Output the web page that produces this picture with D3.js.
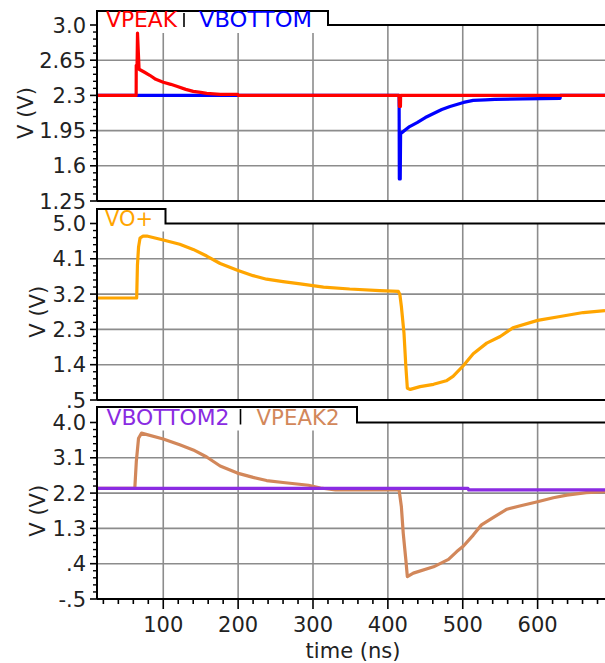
<!DOCTYPE html>
<html><head><meta charset="utf-8">
<script src="https://cdn.jsdelivr.net/npm/d3@7"></script>
<style>body{margin:0;background:#fff}svg{display:block;font-family:"DejaVu Sans",sans-serif}</style>
</head><body><svg id="c" width="605" height="663"></svg>
<script>
// ---------- data ----------
const timeDomain = [11.5, 690];
const timeTicks = [100, 200, 300, 400, 500, 600];
const timeLabels = ["100", "200", "300", "400", "500", "600"];
const timeMinorStep = 20;

const topTicks = [1.25, 1.6, 1.95, 2.3, 2.65, 3.0];
const topLabels = ["1.25", "1.6", "1.95", "2.3", "2.65", "3.0"];
const midTicks = [0.5, 1.4, 2.3, 3.2, 4.1, 5.0];
const midLabels = [".5", "1.4", "2.3", "3.2", "4.1", "5.0"];
const botTicks = [-0.5, 0.4, 1.3, 2.2, 3.1, 4.0];
const botLabels = ["-.5", ".4", "1.3", "2.2", "3.1", "4.0"];

const vpeakT = [11.5, 63.8, 63.9, 65, 65.6, 67.7, 75, 82, 90, 100, 110, 118, 130, 140, 150, 158, 176, 199.5, 200, 415, 415.4, 416.8, 417, 690];
const vpeakV = [2.3, 2.3, 2.6, 2.6, 2.92, 2.56, 2.53, 2.5, 2.46, 2.43, 2.41, 2.39, 2.36, 2.34, 2.33, 2.32, 2.31, 2.31, 2.3, 2.3, 2.19, 2.19, 2.3, 2.3];

const vbottomT = [11.5, 415, 415.3, 416.5, 417, 429, 439, 450, 461, 472, 483, 492, 501, 514, 530, 543, 580, 630, 630.5, 690];
const vbottomV = [2.3, 2.3, 1.47, 1.47, 1.92, 1.99, 2.03, 2.08, 2.12, 2.16, 2.19, 2.21, 2.23, 2.25, 2.255, 2.26, 2.265, 2.27, 2.3, 2.3];

const voT = [11.5, 64.5, 65.5, 67, 69, 73, 78, 100, 122, 140, 158, 176, 199, 220, 238, 260, 283, 314, 349, 389, 414, 416, 418, 421.5, 424, 426, 430, 443, 461, 478, 487, 501, 514, 532, 550, 567, 600, 630, 661, 690];
const voV = [3.1, 3.1, 3.93, 4.4, 4.63, 4.68, 4.68, 4.58, 4.47, 4.34, 4.17, 3.98, 3.81, 3.67, 3.58, 3.52, 3.46, 3.38, 3.33, 3.29, 3.27, 3.19, 2.89, 2.21, 1.36, 0.8, 0.77, 0.84, 0.9, 0.99, 1.1, 1.38, 1.68, 1.95, 2.12, 2.34, 2.53, 2.63, 2.73, 2.78];

const vbottom2T = [11.5, 507, 508, 690];
const vbottom2V = [2.32, 2.32, 2.28, 2.28];

const vpeak2T = [11.5, 62, 64, 67, 71, 100, 122, 140, 158, 176, 199, 220, 238, 260, 294, 310, 330, 415, 418, 420.5, 424, 426, 434, 461, 481, 492, 501, 514, 525, 541, 559, 576, 600, 621, 639, 665, 690];
const vpeak2V = [2.32, 2.32, 3.0, 3.6, 3.73, 3.58, 3.43, 3.3, 3.12, 2.89, 2.71, 2.6, 2.52, 2.47, 2.4, 2.33, 2.28, 2.28, 1.86, 1.18, 0.5, 0.07, 0.16, 0.32, 0.51, 0.71, 0.85, 1.13, 1.39, 1.58, 1.79, 1.87, 1.98, 2.08, 2.15, 2.21, 2.24];

// ---------- layout ----------
const L = 97, R = 605;
const FONT = 21;
const svg = d3.select("#c");
const x = d3.scaleLinear().domain(timeDomain).range([L, R]);

const panels = [
  {yTop: 25, yBot: 201, ticks: topTicks, labels: topLabels, tabTop: 11, tabRight: 328, labelX: 33,
   series: [{t: vbottomT, v: vbottomV, c: "#0000ff"}, {t: vpeakT, v: vpeakV, c: "#ff0000"}],
   legend: [{n: "VPEAK", c: "#ff0000", x: 106, w: 71}, {sep: 184}, {n: "VBOTTOM", c: "#0000ff", x: 199, w: 113}]},
  {yTop: 223.5, yBot: 400, ticks: midTicks, labels: midLabels, tabTop: 209, tabRight: 165.5, labelX: 45,
   series: [{t: voT, v: voV, c: "#ffa500"}],
   legend: [{n: "VO+", c: "#ffa500", x: 105, w: 48}]},
  {yTop: 422.5, yBot: 599, ticks: botTicks, labels: botLabels, tabTop: 407, tabRight: 357, labelX: 45,
   series: [{t: vpeak2T, v: vpeak2V, c: "#d2875a"}, {t: vbottom2T, v: vbottom2V, c: "#8a2be2"}],
   legend: [{n: "VBOTTOM2", c: "#8a2be2", x: 106.5, w: 123}, {sep: 240.5}, {n: "VPEAK2", c: "#d2875a", x: 256.5, w: 83}]}
];

panels.forEach((p, pi) => {
  const g = svg.append("g");
  const y = d3.scaleLinear().domain([p.ticks[0], p.ticks[p.ticks.length - 1]]).range([p.yBot, p.yTop]);

  // grid
  g.selectAll(".vg").data(timeTicks).join("line")
    .attr("x1", d => x(d)).attr("x2", d => x(d)).attr("y1", p.yTop).attr("y2", p.yBot)
    .attr("stroke", "#8c8c8c").attr("stroke-width", 1.6);
  g.selectAll(".hg").data(p.ticks.slice(1, -1)).join("line")
    .attr("x1", L).attr("x2", R).attr("y1", d => y(d)).attr("y2", d => y(d))
    .attr("stroke", "#8c8c8c").attr("stroke-width", 1.6);

  // tab background
  g.append("rect").attr("x", L).attr("y", p.tabTop).attr("width", p.tabRight - L).attr("height", p.yTop + 8 - p.tabTop)
    .attr("fill", "#fff");

  // series
  const line = d3.line().x(d => x(d[0])).y(d => y(d[1]));
  p.series.forEach(s => {
    const pts = s.t.map((t, i) => [t, s.v[i]]);
    g.append("path").attr("d", line(pts)).attr("fill", "none").attr("stroke", s.c)
      .attr("stroke-width", 3.2).attr("stroke-linejoin", "round");
  });

  // frame
  g.append("path")
    .attr("d", `M${L},${p.yBot}V${p.tabTop}H${p.tabRight}V${p.yTop}H${R}`)
    .attr("fill", "none").attr("stroke", "#000").attr("stroke-width", 2);
  g.append("line").attr("x1", L).attr("x2", R).attr("y1", p.yBot).attr("y2", p.yBot)
    .attr("stroke", "#000").attr("stroke-width", 2);

  // y ticks
  g.selectAll(".yt").data(p.ticks).join("line")
    .attr("x1", L - 7).attr("x2", L).attr("y1", d => y(d)).attr("y2", d => y(d))
    .attr("stroke", "#000").attr("stroke-width", 1.6);
  const minor = [];
  for (let i = 0; i < p.ticks.length - 1; i++) {
    const a = p.ticks[i], b = p.ticks[i + 1];
    for (let k = 1; k < 5; k++) minor.push(a + (b - a) * k / 5);
  }
  g.selectAll(".ym").data(minor).join("line")
    .attr("x1", L - 4).attr("x2", L).attr("y1", d => y(d)).attr("y2", d => y(d))
    .attr("stroke", "#000").attr("stroke-width", 1.4);
  g.selectAll(".yl").data(p.ticks).join("text")
    .attr("x", L - 11).attr("y", d => y(d)).attr("dy", "0.36em")
    .attr("text-anchor", "end").attr("font-size", FONT).attr("fill", "#222")
    .text((d, i) => p.labels[i]);

  // y label
  g.append("text").attr("transform", `translate(${p.labelX},${(p.yTop + p.yBot) / 2}) rotate(-90)`)
    .attr("text-anchor", "middle").attr("font-size", FONT).attr("fill", "#222").text("V (V)");

  // legend
  p.legend.forEach(it => {
    if (it.sep !== undefined) {
      g.append("line").attr("x1", it.sep).attr("x2", it.sep).attr("y1", p.tabTop + 2).attr("y2", p.yTop + 2)
        .attr("stroke", "#000").attr("stroke-width", 1.6);
    } else {
      g.append("text").attr("x", it.x).attr("y", p.yTop + 2).attr("font-size", FONT).attr("fill", it.c)
        .attr("textLength", it.w).attr("lengthAdjust", "spacingAndGlyphs").text(it.n);
    }
  });

  // x axis on bottom panel
  if (pi === panels.length - 1) {
    const minorT = d3.range(20, timeDomain[1], timeMinorStep).filter(t => t % 100 !== 0);
    g.selectAll(".xm").data(minorT).join("line")
      .attr("x1", d => x(d)).attr("x2", d => x(d)).attr("y1", p.yBot).attr("y2", p.yBot + 5)
      .attr("stroke", "#000").attr("stroke-width", 1.6);
    g.selectAll(".xt").data(timeTicks).join("line")
      .attr("x1", d => x(d)).attr("x2", d => x(d)).attr("y1", p.yBot).attr("y2", p.yBot + 10)
      .attr("stroke", "#000").attr("stroke-width", 1.6);
    g.selectAll(".xl").data(timeTicks).join("text")
      .attr("x", d => x(d)).attr("y", 632).attr("text-anchor", "middle")
      .attr("font-size", FONT).attr("fill", "#222").text((d, i) => timeLabels[i]);
    g.append("text").attr("x", 353).attr("y", 658).attr("text-anchor", "middle")
      .attr("font-size", FONT).attr("fill", "#222").text("time (ns)");
  }
});
</script>
</body></html>
